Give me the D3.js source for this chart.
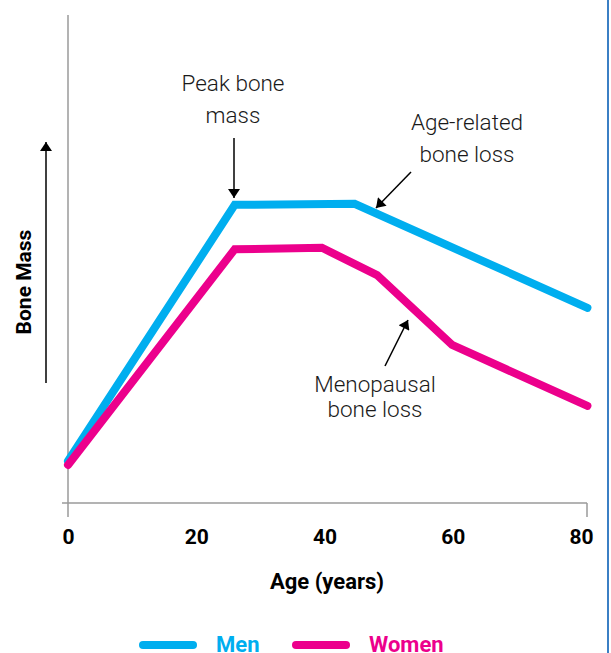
<!DOCTYPE html>
<html>
<head>
<meta charset="utf-8">
<script src="https://cdn.jsdelivr.net/npm/d3@7"></script>
<style>
  body { margin: 0; background: #fff; }
  svg { display: block; font-family: Roboto, "Open Sans", sans-serif; }
</style>
</head>
<body>
<div id="chart"></div>
<script>
// data (bone mass is relative, 0-100)
var menAges = [0, 26, 44.7, 81];
var menMass = [8.6, 61.1, 61.3, 40.0];
var womenAges = [0, 26, 39.6, 48.2, 59.9, 81];
var womenMass = [7.8, 52.0, 52.3, 46.7, 32.4, 19.9];
var xTicks = [0, 20, 40, 60, 80];
var seriesNames = ["Men", "Women"];
var seriesColors = ["#00aeef", "#ec008c"];

var width = 611, height = 653;

var svg = d3.select("#chart").append("svg")
    .attr("width", width)
    .attr("height", height);

var x = d3.scaleLinear().domain([0, 80]).range([68, 581]);
var y = d3.scaleLinear().domain([0, 100]).range([503, 15]);

// right border
svg.append("line")
    .attr("x1", 608).attr("x2", 608)
    .attr("y1", 0).attr("y2", height)
    .attr("stroke", "#3b7fc4")
    .attr("stroke-width", 2);

// axes lines
var axisColor = "#9a9a9a";
svg.append("line")
    .attr("x1", x(0)).attr("x2", x(0))
    .attr("y1", y(100)).attr("y2", y(0) + 14)
    .attr("stroke", axisColor).attr("stroke-width", 1.5);
svg.append("line")
    .attr("x1", x(0) - 6).attr("x2", x(80) + 6)
    .attr("y1", y(0)).attr("y2", y(0))
    .attr("stroke", axisColor).attr("stroke-width", 1.5);
svg.append("line")
    .attr("x1", x(80) + 6).attr("x2", x(80) + 6)
    .attr("y1", y(0)).attr("y2", y(0) + 14)
    .attr("stroke", axisColor).attr("stroke-width", 1.5);

// tick labels
var xAxis = d3.axisBottom(x)
    .tickValues(xTicks)
    .tickSize(0)
    .tickPadding(26);

var gx = svg.append("g")
    .attr("transform", "translate(0," + y(0) + ")")
    .call(xAxis);
gx.select(".domain").remove();
gx.selectAll("text")
    .attr("font-family", "Roboto, sans-serif")
    .attr("font-size", 21)
    .attr("font-weight", "bold")
    .attr("fill", "#000");

svg.append("text")
    .attr("x", 327).attr("y", 589)
    .attr("text-anchor", "middle")
    .attr("font-size", 22)
    .attr("font-weight", "bold")
    .text("Age (years)");

svg.append("text")
    .attr("transform", "translate(31,282) rotate(-90)")
    .attr("text-anchor", "middle")
    .attr("font-size", 21)
    .attr("font-weight", "bold")
    .text("Bone Mass");

// arrow markers
var defs = svg.append("defs");
defs.append("marker")
    .attr("id", "head")
    .attr("viewBox", "0 0 12 16")
    .attr("refX", 12).attr("refY", 8)
    .attr("markerWidth", 16).attr("markerHeight", 12)
    .attr("markerUnits", "userSpaceOnUse")
    .attr("orient", "auto")
    .append("path")
    .attr("d", "M0,0 L12,8 L0,16 Z")
    .attr("fill", "#000");

function arrow(x1, y1, x2, y2) {
    svg.append("line")
        .attr("x1", x1).attr("y1", y1)
        .attr("x2", x2).attr("y2", y2)
        .attr("stroke", "#000")
        .attr("stroke-width", 1.5)
        .attr("marker-end", "url(#head)");
}

arrow(46, 383, 46, 142);

// lines
var line = d3.line()
    .x(function (d) { return x(d[0]); })
    .y(function (d) { return y(d[1]); });

var series = [
    d3.zip(menAges, menMass),
    d3.zip(womenAges, womenMass)
];

svg.selectAll("path.series")
    .data(series)
    .enter()
    .append("path")
    .attr("class", "series")
    .attr("d", line)
    .attr("fill", "none")
    .attr("stroke", function (d, i) { return seriesColors[i]; })
    .attr("stroke-width", 8)
    .attr("stroke-linecap", "round")
    .attr("stroke-linejoin", "miter");

// annotations
function label(cx, lines, y0, dy) {
    var t = svg.append("text")
        .attr("text-anchor", "middle")
        .attr("font-size", 22.5)
        .attr("font-weight", 300)
        .attr("fill", "#1a1a1a");
    lines.forEach(function (s, i) {
        t.append("tspan")
            .attr("x", cx)
            .attr("y", y0 + i * dy)
            .text(s);
    });
}

label(233, ["Peak bone", "mass"], 91, 32);
arrow(234, 138, 234, 198);

label(467, ["Age-related", "bone loss"], 130, 32);
arrow(411, 172, 376, 208);

label(375, ["Menopausal", "bone loss"], 392, 25);
arrow(385, 366, 408, 320);

// legend
var legend = svg.selectAll("g.legend")
    .data(seriesNames)
    .enter()
    .append("g")
    .attr("class", "legend")
    .attr("transform", function (d, i) { return "translate(" + (143 + i * 153) + ",645)"; });

legend.append("line")
    .attr("x1", 0).attr("x2", 50)
    .attr("y1", 0).attr("y2", 0)
    .attr("stroke", function (d, i) { return seriesColors[i]; })
    .attr("stroke-width", 8)
    .attr("stroke-linecap", "round");

legend.append("text")
    .attr("x", 73).attr("y", 7)
    .attr("font-size", 22)
    .attr("font-weight", "bold")
    .attr("fill", function (d, i) { return seriesColors[i]; })
    .text(function (d) { return d; });
</script>
</body>
</html>
